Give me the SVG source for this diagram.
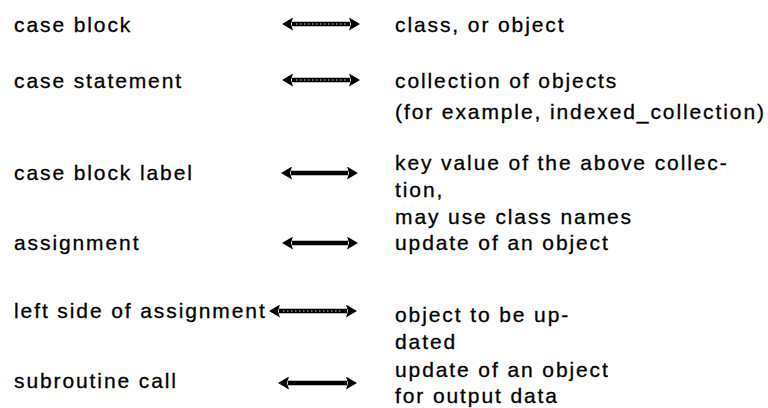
<svg xmlns="http://www.w3.org/2000/svg" width="768" height="408" viewBox="0 0 768 408">
  <defs>
    <marker id="head" viewBox="0 0 11 13" refX="1" refY="6.5" markerWidth="11" markerHeight="13" markerUnits="userSpaceOnUse" orient="auto-start-reverse">
      <path d="M0,0 L11,6.5 L0,13 L2,6.5 Z" fill="#000"/>
    </marker>
    <style>
      text { font-family: "Liberation Sans", Arial, Helvetica, sans-serif; font-size: 21px; letter-spacing: 1.9px; fill: #000; stroke: #000; stroke-width: 0.3px; }
      .shaft { stroke: #000; stroke-width: 4.5; fill: none; marker-start: url(#head); marker-end: url(#head); }
      .grain { stroke: #fff; stroke-width: 1; stroke-dasharray: 1.5 2.5; fill: none; opacity: 0.8; }
    </style>
  </defs>
  <rect width="768" height="408" fill="#fff"/>

  <!-- left column: language constructs -->
  <g id="n-case-block"><text x="14" y="32">case block</text></g>
  <g id="n-case-statement"><text x="14" y="88">case statement</text></g>
  <g id="n-case-block-label"><text x="14" y="180">case block label</text></g>
  <g id="n-assignment"><text x="14" y="250">assignment</text></g>
  <g id="n-left-side"><text x="14" y="318">left side of assignment</text></g>
  <g id="n-subroutine-call"><text x="14" y="388">subroutine call</text></g>

  <!-- right column: object-oriented counterparts -->
  <g id="m-class"><text x="395" y="32">class, or object</text></g>
  <g id="m-collection">
    <text x="395" y="88">collection of objects</text>
    <text x="395" y="119">(for example, indexed_collection)</text>
  </g>
  <g id="m-key-value">
    <text x="395" y="170">key value of the above collec-</text>
    <text x="395" y="197">tion,</text>
    <text x="395" y="224">may use class names</text>
  </g>
  <g id="m-update"><text x="395" y="250">update of an object</text></g>
  <g id="m-object-updated">
    <text x="395" y="322">object to be up-</text>
    <text x="395" y="349">dated</text>
  </g>
  <g id="m-output-update">
    <text x="395" y="377">update of an object</text>
    <text x="395" y="403">for output data</text>
  </g>

  <!-- double-headed correspondence arrows -->
  <g id="connectors">
    <line class="shaft" x1="292" y1="24" x2="350" y2="24"/>
    <line class="grain" x1="296" y1="24" x2="346" y2="24"/>
    <line class="shaft" x1="292" y1="80" x2="350" y2="80"/>
    <line class="grain" x1="296" y1="80" x2="346" y2="80"/>
    <line class="shaft" x1="291" y1="173" x2="348" y2="173"/>
    <line class="shaft" x1="292" y1="243" x2="348" y2="243"/>
    <line class="shaft" x1="279" y1="311" x2="347" y2="311"/>
    <line class="grain" x1="283" y1="311" x2="343" y2="311"/>
    <line class="shaft" x1="288" y1="383" x2="347" y2="383"/>
  </g>
</svg>
